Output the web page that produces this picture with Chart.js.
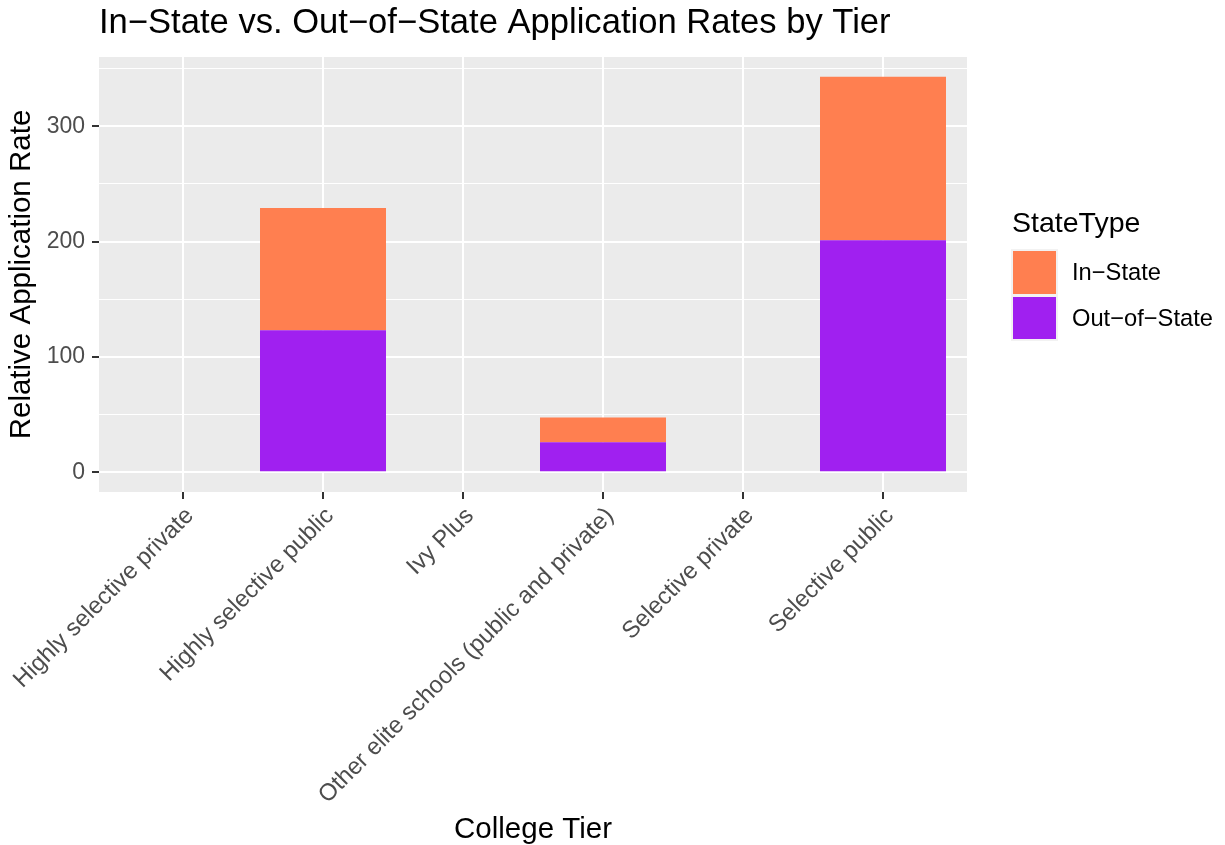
<!DOCTYPE html>
<html>
<head>
<meta charset="utf-8">
<script src="https://cdn.jsdelivr.net/npm/chart.js@4"></script>
<style>
  body { margin: 0; background: #fff; }
  .chart-container { width: 1225px; height: 845px; position: relative; }
</style>
</head>
<body>
<div class="chart-container">
  <canvas id="tier-chart"></canvas>
</div>
<script>
// data
const tiers = [
    'Highly selective private',
    'Highly selective public',
    'Ivy Plus',
    'Other elite schools (public and private)',
    'Selective private',
    'Selective public'
];
const outOfState = [null, 123, null, 26, null, 201];
const inState = [null, 106, null, 21.5, null, 141.8];
const yTicks = [0, 50, 100, 150, 200, 250, 300, 350];
const seriesNames = ['In\u2212State', 'Out\u2212of\u2212State'];
const seriesColors = ['#FF7F50', '#A020F0'];

const fontFamily = "'Liberation Sans', Arial, sans-serif";

// ggplot style expansion of the y range (5% each side)
const totals = tiers.map((t, i) => (outOfState[i] || 0) + (inState[i] || 0));
const yTop = Math.max(...totals);
const yPad = yTop * 0.05;

const toPoints = (arr) => arr.map((v, i) => ({ x: i + 1, y: v }));

// grey panel behind the grid
const panelBg = {
    id: 'panelBg',
    beforeDraw: (chart) => {
        const { ctx, chartArea: a } = chart;
        ctx.save();
        ctx.fillStyle = '#EBEBEB';
        ctx.fillRect(a.left, a.top, a.right - a.left, a.bottom - a.top);
        ctx.restore();
    }
};

// legend drawn the ggplot way
const sideLegend = {
    id: 'sideLegend',
    afterDraw: (chart) => {
        const ctx = chart.ctx;
        ctx.save();
        ctx.fillStyle = '#000';
        ctx.textBaseline = 'alphabetic';
        ctx.textAlign = 'left';
        ctx.font = '28.5px ' + fontFamily;
        ctx.fillText('StateType', 1012, 232);

        ctx.fillStyle = '#F2F2F2';
        ctx.fillRect(1011, 249, 47, 92);
        ctx.fillStyle = seriesColors[0];
        ctx.fillRect(1013, 251, 43, 43);
        ctx.fillStyle = seriesColors[1];
        ctx.fillRect(1013, 297, 43, 42);

        ctx.fillStyle = '#000';
        ctx.font = '23.7px ' + fontFamily;
        ctx.textBaseline = 'middle';
        ctx.fillText(seriesNames[0], 1072, 273);
        ctx.fillText(seriesNames[1], 1072, 319);
        ctx.restore();
    }
};

const data = {
    datasets: [
        {
            label: seriesNames[1],
            data: toPoints(outOfState),
            backgroundColor: seriesColors[1],
            categoryPercentage: 0.9,
            barPercentage: 1.0
        },
        {
            label: seriesNames[0],
            data: toPoints(inState),
            backgroundColor: seriesColors[0],
            categoryPercentage: 0.9,
            barPercentage: 1.0
        }
    ]
};

const config = {
    type: 'bar',
    data: data,
    plugins: [panelBg, sideLegend],
    options: {
        responsive: true,
        maintainAspectRatio: false,
        animation: false,
        devicePixelRatio: 1,
        layout: {
            padding: { left: 0, right: 258, top: 0, bottom: 0 }
        },
        plugins: {
            legend: { display: false },
            tooltip: { enabled: false },
            title: {
                display: true,
                text: 'In\u2212State vs. Out\u2212of\u2212State Application Rates by Tier',
                align: 'start',
                fullSize: false,
                color: '#000',
                font: { family: fontFamily, size: 34.6, weight: 'normal', lineHeight: 1.2 },
                padding: { top: 3, bottom: 12.5 }
            }
        },
        scales: {
            x: {
                type: 'linear',
                stacked: true,
                offset: false,
                min: 0.4,
                max: 6.6,
                afterBuildTicks: (scale) => {
                    scale.ticks = tiers.map((t, i) => ({ value: i + 1 }));
                },
                afterFit: (scale) => {
                    scale.height = 353;
                    scale.paddingLeft = 0;
                    scale.paddingRight = 0;
                },
                border: { display: false },
                grid: {
                    offset: false,
                    color: '#FFFFFF',
                    lineWidth: 2,
                    drawTicks: true,
                    tickLength: 7,
                    tickWidth: 2,
                    tickColor: '#333333'
                },
                ticks: {
                    autoSkip: false,
                    minRotation: 45,
                    maxRotation: 45,
                    padding: 3,
                    labelOffset: 7,
                    color: '#4D4D4D',
                    font: { family: fontFamily, size: 23.8 },
                    callback: (value) => tiers[Math.round(value) - 1]
                },
                title: {
                    display: true,
                    text: 'College Tier',
                    color: '#000',
                    font: { family: fontFamily, size: 29.5, lineHeight: 1.2 },
                    padding: { top: 0, bottom: -3 }
                }
            },
            y: {
                stacked: true,
                min: -yPad,
                max: yTop + yPad,
                afterBuildTicks: (scale) => {
                    scale.ticks = yTicks.map((v) => ({ value: v }));
                },
                afterFit: (scale) => {
                    scale.width = 99;
                },
                border: { display: false },
                grid: {
                    color: '#FFFFFF',
                    lineWidth: (ctx) => (ctx.tick && ctx.tick.value % 100 === 0 ? 2 : 1),
                    drawTicks: true,
                    tickLength: 7,
                    tickWidth: 2,
                    tickColor: (ctx) => (ctx.tick && ctx.tick.value % 100 === 0 ? '#333333' : 'rgba(0,0,0,0)')
                },
                ticks: {
                    padding: 7,
                    color: '#4D4D4D',
                    font: { family: fontFamily, size: 23 },
                    callback: (value) => (value % 100 === 0 ? value : '')
                },
                title: {
                    display: true,
                    text: 'Relative Application Rate',
                    color: '#000',
                    font: { family: fontFamily, size: 29.5, lineHeight: 1.2 },
                    padding: { top: 4, bottom: 0 }
                }
            }
        }
    }
};

const tierChart = new Chart(document.getElementById('tier-chart'), config);
</script>
</body>
</html>
